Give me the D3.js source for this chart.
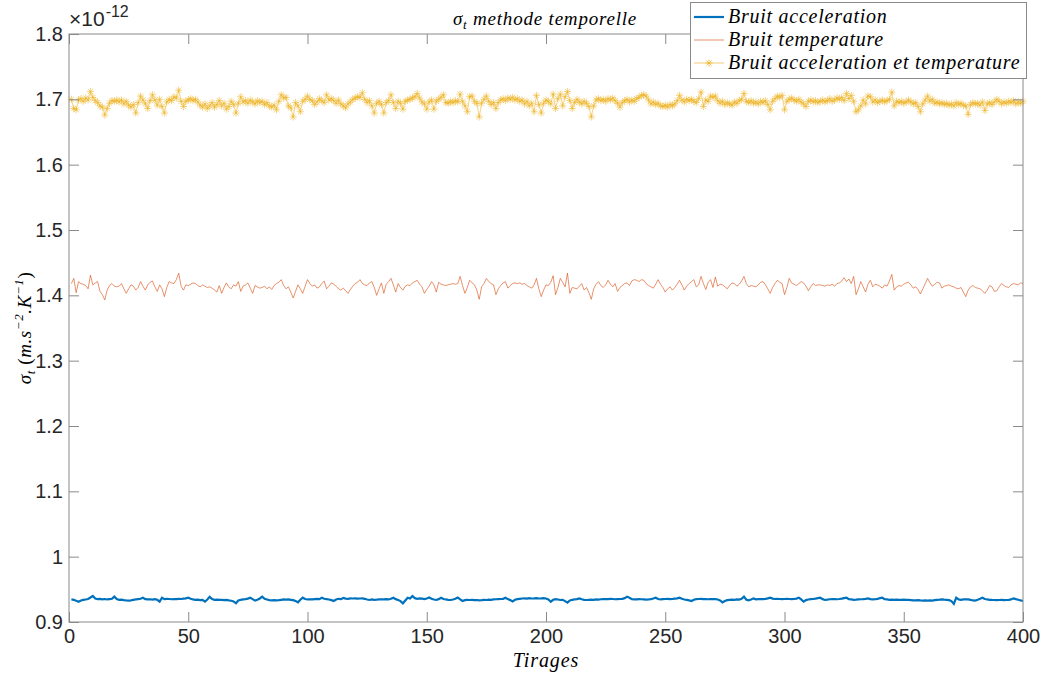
<!DOCTYPE html>
<html><head><meta charset="utf-8">
<script src="https://cdn.jsdelivr.net/npm/d3@7"></script>
<style>body{margin:0;background:#fff}svg{display:block}</style>
</head><body>
<script>
// values in units of 1e-12 (m.s^-2.K^-1), x = tirage index 1..400
const seriesNames = ["Bruit acceleration","Bruit temperature","Bruit acceleration et temperature"];
const xTicks = [0,50,100,150,200,250,300,350,400];
const yTicks = [0.9,1.0,1.1,1.2,1.3,1.4,1.5,1.6,1.7,1.8];
const yTickLabels = ["0.9","1","1.1","1.2","1.3","1.4","1.5","1.6","1.7","1.8"];

const bruitAcc = [
0.9345,0.9340,0.9325,0.9311,0.9330,0.9338,0.9345,0.9352,0.9375,0.9398,
0.9360,0.9350,0.9355,0.9348,0.9352,0.9345,0.9350,0.9355,0.9388,0.9350,
0.9340,0.9342,0.9335,0.9330,0.9327,0.9332,0.9340,0.9345,0.9350,0.9355,
0.9372,0.9350,0.9345,0.9348,0.9342,0.9350,0.9340,0.9311,0.9372,0.9350,
0.9355,0.9352,0.9348,0.9352,0.9350,0.9355,0.9352,0.9358,0.9362,0.9372,
0.9355,0.9345,0.9340,0.9342,0.9335,0.9338,0.9311,0.9345,0.9385,0.9350,
0.9340,0.9342,0.9338,0.9340,0.9335,0.9338,0.9330,0.9325,0.9315,0.9286,
0.9330,0.9340,0.9345,0.9350,0.9358,0.9372,0.9350,0.9327,0.9340,0.9360,
0.9388,0.9355,0.9345,0.9335,0.9330,0.9335,0.9332,0.9335,0.9340,0.9345,
0.9342,0.9345,0.9340,0.9335,0.9320,0.9301,0.9340,0.9372,0.9352,0.9345,
0.9348,0.9345,0.9350,0.9355,0.9350,0.9372,0.9355,0.9350,0.9345,0.9335,
0.9321,0.9345,0.9355,0.9350,0.9368,0.9358,0.9355,0.9362,0.9360,0.9362,
0.9358,0.9360,0.9362,0.9355,0.9345,0.9337,0.9345,0.9340,0.9342,0.9345,
0.9348,0.9345,0.9350,0.9345,0.9355,0.9372,0.9350,0.9337,0.9320,0.9286,
0.9330,0.9372,0.9360,0.9398,0.9365,0.9355,0.9362,0.9358,0.9350,0.9360,
0.9375,0.9355,0.9345,0.9337,0.9350,0.9372,0.9352,0.9345,0.9340,0.9337,
0.9345,0.9355,0.9375,0.9345,0.9321,0.9335,0.9340,0.9337,0.9340,0.9335,
0.9337,0.9332,0.9335,0.9340,0.9337,0.9342,0.9340,0.9345,0.9348,0.9350,
0.9352,0.9355,0.9372,0.9350,0.9335,0.9316,0.9340,0.9350,0.9355,0.9360,
0.9362,0.9358,0.9365,0.9360,0.9362,0.9365,0.9360,0.9362,0.9365,0.9360,
0.9345,0.9311,0.9340,0.9350,0.9345,0.9337,0.9340,0.9320,0.9296,0.9330,
0.9340,0.9345,0.9350,0.9362,0.9348,0.9340,0.9337,0.9340,0.9342,0.9340,
0.9345,0.9342,0.9348,0.9350,0.9352,0.9350,0.9355,0.9352,0.9348,0.9350,
0.9352,0.9355,0.9365,0.9388,0.9372,0.9350,0.9347,0.9345,0.9350,0.9348,
0.9345,0.9342,0.9345,0.9350,0.9360,0.9372,0.9352,0.9345,0.9350,0.9352,
0.9355,0.9350,0.9352,0.9358,0.9362,0.9372,0.9355,0.9345,0.9338,0.9330,
0.9321,0.9340,0.9350,0.9352,0.9355,0.9350,0.9352,0.9348,0.9350,0.9352,
0.9350,0.9345,0.9330,0.9301,0.9320,0.9335,0.9340,0.9342,0.9340,0.9345,
0.9342,0.9355,0.9388,0.9340,0.9332,0.9345,0.9362,0.9348,0.9350,0.9352,
0.9350,0.9355,0.9362,0.9372,0.9358,0.9352,0.9355,0.9352,0.9350,0.9352,
0.9355,0.9352,0.9350,0.9352,0.9358,0.9372,0.9345,0.9311,0.9335,0.9345,
0.9350,0.9352,0.9358,0.9365,0.9372,0.9350,0.9337,0.9342,0.9348,0.9352,
0.9350,0.9348,0.9352,0.9358,0.9365,0.9372,0.9350,0.9345,0.9340,0.9342,
0.9345,0.9348,0.9350,0.9355,0.9362,0.9350,0.9345,0.9348,0.9355,0.9365,
0.9372,0.9350,0.9345,0.9340,0.9342,0.9340,0.9342,0.9338,0.9340,0.9342,
0.9340,0.9338,0.9335,0.9330,0.9332,0.9335,0.9330,0.9327,0.9330,0.9327,
0.9330,0.9328,0.9335,0.9340,0.9342,0.9345,0.9342,0.9340,0.9335,0.9320,
0.9276,0.9372,0.9345,0.9340,0.9345,0.9348,0.9345,0.9340,0.9330,0.9327,
0.9340,0.9355,0.9372,0.9352,0.9345,0.9340,0.9338,0.9337,0.9335,0.9337,
0.9340,0.9335,0.9337,0.9340,0.9345,0.9362,0.9350,0.9340,0.9330,0.9321];

const bruitTemp = [
1.418,1.426,1.404,1.421,1.418,1.417,1.415,1.410,1.431,1.416,
1.419,1.421,1.406,1.401,1.393,1.408,1.415,1.418,1.414,1.413,
1.414,1.418,1.410,1.403,1.410,1.416,1.414,1.408,1.412,1.421,
1.414,1.408,1.416,1.420,1.422,1.413,1.406,1.416,1.410,1.398,
1.412,1.421,1.419,1.418,1.424,1.434,1.414,1.408,1.416,1.415,
1.417,1.419,1.418,1.415,1.413,1.416,1.414,1.412,1.413,1.411,
1.408,1.405,1.415,1.403,1.412,1.419,1.413,1.410,1.416,1.414,
1.421,1.406,1.414,1.416,1.419,1.411,1.403,1.415,1.413,1.411,
1.412,1.414,1.410,1.413,1.409,1.415,1.418,1.420,1.424,1.415,
1.410,1.413,1.405,1.396,1.406,1.416,1.410,1.403,1.414,1.424,
1.418,1.414,1.416,1.411,1.413,1.418,1.422,1.410,1.414,1.419,
1.417,1.414,1.410,1.408,1.411,1.407,1.403,1.409,1.414,1.418,
1.420,1.424,1.418,1.416,1.415,1.419,1.421,1.412,1.400,1.410,
1.419,1.403,1.417,1.421,1.426,1.416,1.405,1.418,1.412,1.408,
1.414,1.416,1.415,1.419,1.421,1.423,1.417,1.413,1.403,1.409,
1.414,1.421,1.416,1.405,1.420,1.417,1.416,1.415,1.416,1.417,
1.418,1.417,1.418,1.429,1.415,1.403,1.412,1.423,1.419,1.416,
1.408,1.394,1.413,1.418,1.426,1.421,1.418,1.416,1.401,1.410,
1.415,1.419,1.421,1.411,1.415,1.418,1.419,1.418,1.419,1.417,
1.418,1.415,1.413,1.411,1.416,1.426,1.410,1.398,1.408,1.416,
1.415,1.420,1.430,1.401,1.412,1.426,1.420,1.413,1.434,1.403,
1.412,1.411,1.410,1.414,1.418,1.408,1.412,1.404,1.394,1.410,
1.417,1.421,1.415,1.412,1.416,1.423,1.417,1.413,1.418,1.406,
1.412,1.415,1.418,1.419,1.415,1.422,1.424,1.423,1.421,1.424,
1.423,1.418,1.415,1.413,1.411,1.417,1.424,1.417,1.412,1.405,
1.410,1.413,1.408,1.412,1.417,1.423,1.416,1.408,1.414,1.418,
1.421,1.424,1.413,1.416,1.429,1.418,1.409,1.420,1.424,1.412,
1.428,1.414,1.417,1.416,1.413,1.410,1.415,1.419,1.418,1.414,
1.417,1.422,1.429,1.418,1.413,1.415,1.414,1.413,1.416,1.420,
1.421,1.416,1.410,1.403,1.412,1.418,1.423,1.420,1.418,1.401,
1.412,1.426,1.419,1.417,1.415,1.418,1.421,1.419,1.414,1.407,
1.413,1.418,1.415,1.416,1.416,1.415,1.414,1.416,1.415,1.417,
1.414,1.418,1.419,1.422,1.427,1.421,1.425,1.418,1.429,1.401,
1.410,1.421,1.413,1.405,1.417,1.423,1.413,1.417,1.416,1.414,
1.411,1.416,1.414,1.422,1.432,1.408,1.413,1.415,1.414,1.417,
1.419,1.420,1.416,1.411,1.413,1.409,1.402,1.410,1.418,1.426,
1.419,1.414,1.417,1.420,1.419,1.411,1.414,1.415,1.416,1.414,
1.413,1.411,1.410,1.412,1.405,1.398,1.408,1.413,1.415,1.412,
1.411,1.410,1.407,1.403,1.408,1.415,1.413,1.406,1.407,1.413,
1.418,1.415,1.413,1.412,1.416,1.418,1.417,1.416,1.419,1.418];

const bruitAccTemp = [
1.700,1.686,1.684,1.699,1.701,1.697,1.702,1.699,1.712,1.703,
1.698,1.695,1.690,1.688,1.676,1.686,1.694,1.698,1.697,1.699,
1.696,1.699,1.693,1.697,1.691,1.688,1.692,1.679,1.695,1.705,
1.699,1.693,1.686,1.698,1.707,1.699,1.691,1.700,1.689,1.679,
1.696,1.700,1.698,1.704,1.702,1.714,1.697,1.689,1.697,1.699,
1.701,1.698,1.700,1.696,1.691,1.688,1.693,1.686,1.690,1.695,
1.688,1.692,1.698,1.690,1.694,1.685,1.689,1.697,1.692,1.679,
1.694,1.704,1.696,1.698,1.694,1.699,1.696,1.693,1.698,1.695,
1.697,1.692,1.695,1.690,1.688,1.691,1.684,1.697,1.707,1.702,
1.703,1.690,1.687,1.673,1.695,1.690,1.681,1.697,1.700,1.705,
1.700,1.698,1.692,1.696,1.701,1.698,1.695,1.707,1.699,1.701,
1.698,1.694,1.699,1.693,1.690,1.687,1.693,1.696,1.700,1.702,
1.704,1.703,1.710,1.700,1.695,1.698,1.690,1.679,1.694,1.697,
1.692,1.679,1.695,1.698,1.707,1.695,1.686,1.697,1.694,1.685,
1.697,1.699,1.700,1.702,1.704,1.709,1.702,1.696,1.693,1.685,
1.696,1.699,1.685,1.697,1.700,1.703,1.707,1.695,1.694,1.697,
1.695,1.698,1.696,1.708,1.697,1.690,1.681,1.704,1.705,1.697,
1.694,1.673,1.694,1.700,1.705,1.697,1.692,1.695,1.686,1.695,
1.699,1.701,1.698,1.702,1.700,1.703,1.699,1.701,1.697,1.699,
1.693,1.697,1.690,1.694,1.681,1.706,1.692,1.679,1.694,1.699,
1.697,1.693,1.708,1.686,1.701,1.708,1.690,1.704,1.712,1.698,
1.686,1.695,1.700,1.696,1.693,1.697,1.694,1.689,1.673,1.690,
1.699,1.701,1.698,1.700,1.697,1.701,1.699,1.702,1.698,1.694,
1.688,1.695,1.698,1.700,1.696,1.699,1.697,1.701,1.703,1.706,
1.707,1.705,1.699,1.693,1.696,1.692,1.694,1.690,1.689,1.691,
1.688,1.692,1.690,1.693,1.698,1.706,1.699,1.696,1.700,1.698,
1.700,1.697,1.695,1.701,1.711,1.689,1.699,1.697,1.705,1.703,
1.705,1.698,1.694,1.697,1.692,1.695,1.693,1.691,1.696,1.694,
1.698,1.700,1.709,1.697,1.695,1.698,1.694,1.696,1.693,1.697,
1.695,1.698,1.692,1.684,1.697,1.701,1.705,1.703,1.706,1.684,
1.697,1.700,1.702,1.699,1.697,1.700,1.696,1.693,1.689,1.697,
1.699,1.696,1.698,1.695,1.697,1.699,1.696,1.698,1.701,1.697,
1.699,1.702,1.700,1.703,1.698,1.709,1.701,1.706,1.697,1.681,
1.684,1.690,1.699,1.693,1.705,1.704,1.696,1.699,1.695,1.697,
1.699,1.696,1.698,1.700,1.711,1.690,1.697,1.695,1.697,1.694,
1.696,1.699,1.696,1.693,1.695,1.689,1.681,1.693,1.699,1.705,
1.697,1.700,1.694,1.696,1.693,1.695,1.692,1.694,1.691,1.693,
1.690,1.695,1.692,1.694,1.691,1.690,1.677,1.692,1.695,1.693,
1.694,1.691,1.696,1.683,1.693,1.695,1.692,1.696,1.700,1.697,
1.693,1.696,1.694,1.697,1.695,1.698,1.693,1.696,1.694,1.697];

const W = 1044, H = 676;
const M = {left: 69, right: 1023, top: 34, bottom: 622};
const TEXT = "#262626", AX = "#8a8a8a";
const SERIF = "'Liberation Serif','DejaVu Serif',serif";
const SANS = "'Liberation Sans',Arial,Helvetica,sans-serif";

const svg = d3.select("body").append("svg").attr("width", W).attr("height", H);
const x = d3.scaleLinear().domain([0, 400]).range([M.left, M.right]);
const y = d3.scaleLinear().domain([0.9, 1.8]).range([M.bottom, M.top]);

const colors = ["#0072BD", "#D95319", "#EDB120"];
const data = [bruitAcc, bruitTemp, bruitAccTemp].map(arr => arr.map((v, i) => ({x: i + 1, y: v})));
const line = d3.line().x(d => x(d.x)).y(d => y(d.y));

// data lines
const g = svg.append("g");
g.append("path").datum(data[2]).attr("d", line).attr("fill", "none")
  .attr("stroke", colors[2]).attr("stroke-width", 0.7).attr("stroke-opacity", 0.8);
const star = "M-3.6,0H3.6M0,-3.6V3.6M-2.6,-2.6L2.6,2.6M-2.6,2.6L2.6,-2.6";
g.append("g").selectAll("path").data(data[2]).join("path")
  .attr("transform", d => `translate(${x(d.x)},${y(d.y)})`).attr("d", star)
  .attr("fill", "none").attr("stroke", colors[2]).attr("stroke-width", 0.7).attr("stroke-opacity", 0.8);
g.append("path").datum(data[1]).attr("d", line).attr("fill", "none")
  .attr("stroke", colors[1]).attr("stroke-width", 0.8).attr("stroke-opacity", 0.8);
g.append("path").datum(data[0]).attr("d", line).attr("fill", "none")
  .attr("stroke", colors[0]).attr("stroke-width", 2.2);

// axes box
svg.append("rect").attr("x", M.left).attr("y", M.top).attr("width", M.right - M.left)
  .attr("height", M.bottom - M.top).attr("fill", "none").attr("stroke", AX).attr("stroke-width", 1);

const xB = d3.axisBottom(x).tickValues(xTicks).tickSizeInner(-10).tickSizeOuter(0).tickPadding(7);
const xT = d3.axisTop(x).tickValues(xTicks).tickSizeInner(-10).tickSizeOuter(0).tickFormat("");
const yL = d3.axisLeft(y).tickValues(yTicks).tickSizeInner(-10).tickSizeOuter(0).tickPadding(6)
  .tickFormat((d, i) => yTickLabels[i]);
const yR = d3.axisRight(y).tickValues(yTicks).tickSizeInner(-10).tickSizeOuter(0).tickFormat("");
[[xB, `translate(0,${M.bottom})`], [xT, `translate(0,${M.top})`],
 [yL, `translate(${M.left},0)`], [yR, `translate(${M.right},0)`]].forEach(([a, t]) => {
  const gg = svg.append("g").attr("transform", t).call(a);
  gg.select(".domain").remove();
  gg.selectAll("line").attr("stroke", AX);
  gg.selectAll("text").attr("fill", TEXT).style("font-family", SANS).style("font-size", "20px");
});

// exponent
const ex = svg.append("text").attr("x", M.left).attr("y", 26).attr("fill", TEXT)
  .style("font-family", SANS).style("font-size", "21px");
ex.append("tspan").text("\u00d710");
ex.append("tspan").attr("dx", 1).attr("dy", -9).style("font-size", "16px").text("-12");

// title
const tt = svg.append("text").attr("x", 545).attr("y", 25).attr("text-anchor", "middle")
  .attr("fill", "#000").style("font-family", SERIF).style("font-style", "italic")
  .style("font-size", "19px").style("letter-spacing", "0.8px");
tt.append("tspan").text("\u03c3");
tt.append("tspan").attr("dy", 4).style("font-size", "13px").text("t");
tt.append("tspan").attr("dy", -4).text(" methode temporelle");

// x label
svg.append("text").attr("x", 546).attr("y", 667).attr("text-anchor", "middle")
  .attr("fill", "#000").style("font-family", SERIF).style("font-style", "italic")
  .style("font-size", "20px").style("letter-spacing", "0.9px").text("Tirages");

// y label
const yl = svg.append("text").attr("transform", `translate(31,328) rotate(-90)`)
  .attr("text-anchor", "middle").attr("fill", "#000").style("font-family", SERIF)
  .style("font-size", "19px").style("letter-spacing", "0.6px");
yl.append("tspan").style("font-style", "italic").text("\u03c3");
yl.append("tspan").attr("dy", 4).style("font-size", "13px").style("font-style", "italic").text("t");
yl.append("tspan").attr("dy", -4).text(" (");
yl.append("tspan").style("font-style", "italic").text("m.s");
yl.append("tspan").attr("dy", -8).style("font-size", "13px").style("font-style", "italic").text("\u22122");
yl.append("tspan").attr("dy", 8).style("font-style", "italic").text(".K");
yl.append("tspan").attr("dy", -8).style("font-size", "13px").style("font-style", "italic").text("\u22121");
yl.append("tspan").attr("dy", 8).text(")");

// legend
const lg = svg.append("g");
lg.append("rect").attr("x", 690.5).attr("y", 2.5).attr("width", 336).attr("height", 76)
  .attr("fill", "#fff").attr("stroke", AX).attr("stroke-width", 1);
const rows = [17, 40, 63];
seriesNames.forEach((name, i) => {
  const ry = rows[i];
  lg.append("line").attr("x1", 694).attr("x2", 724).attr("y1", ry).attr("y2", ry)
    .attr("stroke", colors[i]).attr("stroke-width", i === 0 ? 2.2 : 0.8).attr("stroke-opacity", i === 0 ? 1 : 0.8);
  if (i === 2) lg.append("path").attr("transform", `translate(709,${ry})`).attr("d", star)
    .attr("fill", "none").attr("stroke", colors[2]).attr("stroke-width", 0.7);
  lg.append("text").attr("x", 728).attr("y", ry + 6).attr("fill", "#000")
    .style("font-family", SERIF).style("font-style", "italic").style("font-size", "20px")
    .style("letter-spacing", "0.75px").text(name);
});
</script>
</body></html>
